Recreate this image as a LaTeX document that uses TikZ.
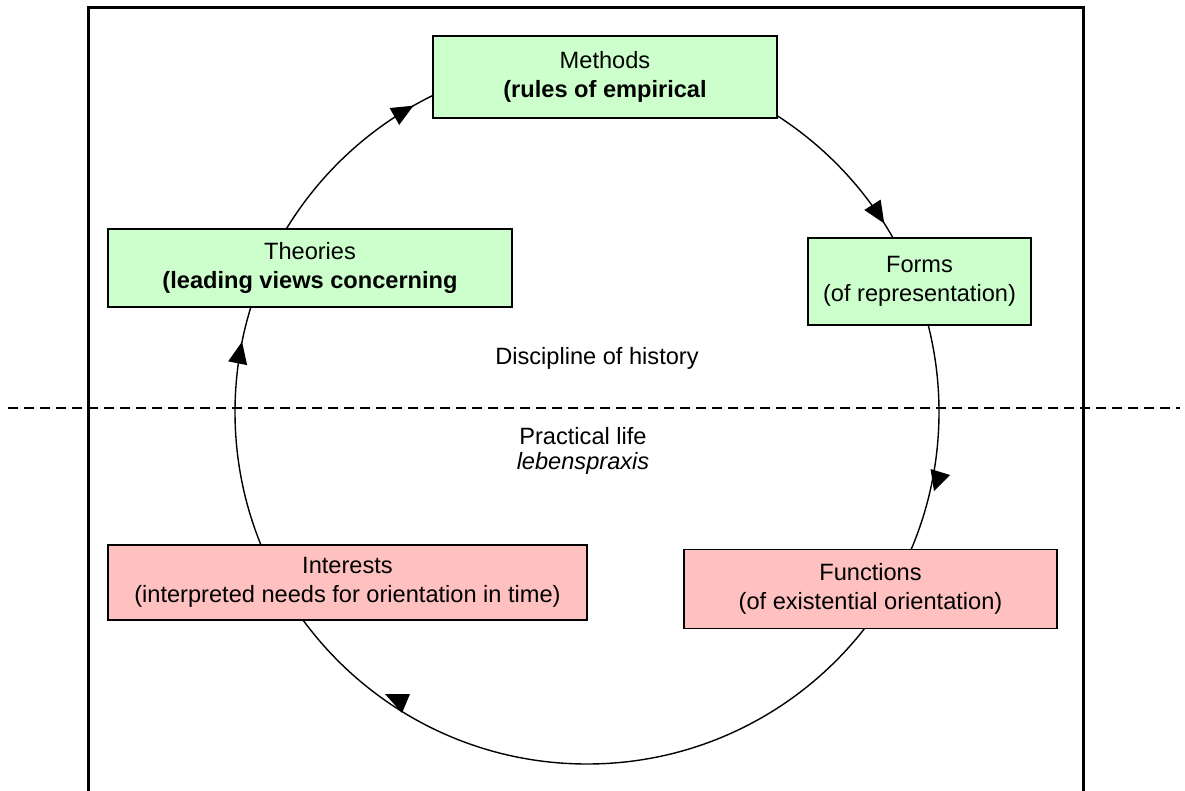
\documentclass[tikz,border=0pt]{standalone}
\usepackage{fontspec}
\setmainfont{Liberation Sans}
\usetikzlibrary{arrows.meta,decorations.markings}
\definecolor{boxgreen}{HTML}{CCFFCC}
\definecolor{boxpink}{HTML}{FFC0C0}
\begin{document}
\begin{tikzpicture}[x=1pt,y=-1pt,
  txt/.style={font=\fontsize{23.6}{29}\selectfont, align=center, inner sep=0pt},
  box/.style={txt, draw=black, line width=1.6pt},
  gbox/.style={box, fill=boxgreen},
  pbox/.style={box, fill=boxpink},
  head/.style={fill=black},
  cyctip/.tip={Triangle[length=22pt,width=19pt]},
  cyc/.style={line width=1.4pt, postaction={decorate}, decoration={markings,
    mark=at position 0.160 with {\arrow{cyctip}},
    mark=at position 0.782 with {\arrow{cyctip}},
    mark=at position 0.918 with {\arrow{cyctip}}}}
]
\useasboundingbox (0,0) rectangle (1185,791);
% cycle
\coordinate (c) at (587,412);
\draw[cyc] (c) ++(0,-352) arc[start angle=-90, end angle=270, radius=352];
% the two oddly turned arrowheads of the cycle
\coordinate (hr) at (930.5,469);
\fill[head] (hr) -- ++(19.5,6) -- ++(-16,16) -- cycle;
\coordinate (hb) at (385,694);
\fill[head] (hb) -- ++(25,0) -- ++(-8,19) -- cycle;
% dashed separator
\coordinate (dl) at (8,408);
\coordinate (dr) at (1180,408);
\draw[line width=1.6pt, dash pattern=on 10pt off 6pt] (dl) -- (dr);
% frame
\coordinate (f1) at (88,791);
\coordinate (f2) at (88,8);
\coordinate (f3) at (1083,8);
\coordinate (f4) at (1083,791);
\draw[line width=3pt] (f1) -- (f2) -- (f3) -- (f4);
% boxes
\node[gbox, minimum width=344, minimum height=82] (methods) at (605,77)
  {Methods\\\textbf{(rules of empirical}};
\node[gbox, minimum width=404, minimum height=78] (theories) at (310,268)
  {Theories\\\textbf{(leading views concerning}};
\node[gbox, minimum width=223, minimum height=87] (forms) at (919.5,281.5)
  {Forms\\(of representation)};
\node[pbox, minimum width=479, minimum height=75] (interests) at (347.5,582.5)
  {Interests\\(interpreted needs for orientation in time)};
\node[pbox, minimum width=373, minimum height=79] (functions) at (870.5,589)
  {Functions\\(of existential orientation)};
% labels
\node[txt] (disc) at (597,358) {Discipline of history};
\node[txt] (prac) at (583,436) {Practical life};
\node[txt, font=\fontsize{23.6}{29}\selectfont\itshape] (leb) at (583,463) {lebenspraxis};
\end{tikzpicture}
\end{document}
